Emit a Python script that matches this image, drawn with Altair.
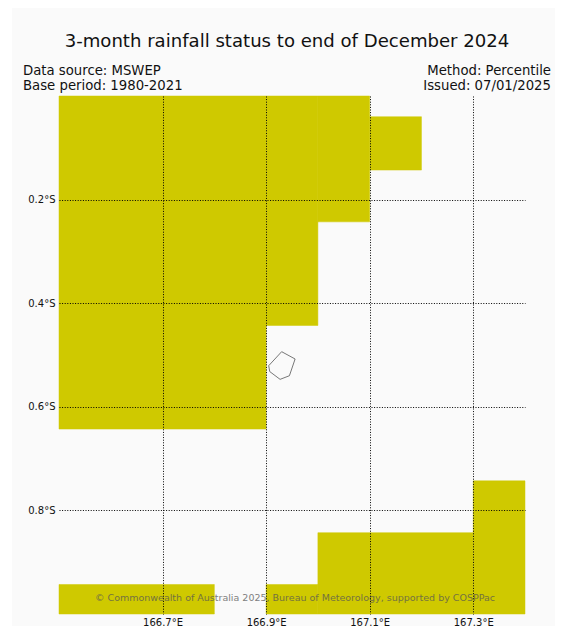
import altair as alt

# Rainfall cells: west, east, north, south
cell_w = [166.5, 166.9, 167.0, 167.1, 166.5, 166.9, 167.0, 167.3]
cell_e = [166.9, 167.0, 167.1, 167.2, 166.8, 167.0, 167.3, 167.4]
cell_n = [0.0, 0.0, 0.0, -0.04, -0.943, -0.943, -0.843, -0.743]
cell_s = [-0.643, -0.443, -0.243, -0.143, -1.0, -1.0, -1.0, -1.0]

# Island outline
isl_lon = [166.93, 166.956, 166.945, 166.927, 166.907, 166.905, 166.93]
isl_lat = [-0.4936, -0.5077, -0.54, -0.547, -0.532, -0.5207, -0.4936]

x_ticks = [166.7, 166.9, 167.1, 167.3]
y_ticks = [-0.2, -0.4, -0.6, -0.8]

TITLE = "3-month rainfall status to end of December 2024"
LEFT1 = "Data source: MSWEP"
LEFT2 = "Base period: 1980-2021"
RIGHT1 = "Method: Percentile"
RIGHT2 = "Issued: 07/01/2025"
COPY = "© Commonwealth of Australia 2025, Bureau of Meteorology, supported by COSPPac"

FONT = "DejaVu Sans"
PAD_L, PAD_T = 51, 88

cells = alt.Data(values=[
    {"w": a, "e": b, "n": c, "s": d}
    for a, b, c, d in zip(cell_w, cell_e, cell_n, cell_s)
])
island = alt.Data(values=[
    {"lon": a, "lat": b, "i": i} for i, (a, b) in enumerate(zip(isl_lon, isl_lat))
])
one = alt.Data(values=[{"a": 1}])

x_scale = alt.Scale(domain=[166.5, 167.4], nice=False, zero=False)
y_scale = alt.Scale(domain=[-1.0, 0.0], nice=False, zero=False)

x_axis = alt.Axis(
    values=x_ticks, grid=True, gridColor="#000000", gridDash=[1, 1.6], gridWidth=1,
    gridOpacity=1, domain=False, ticks=False, title=None, labelFont=FONT, labelFontSize=10,
    labelColor="#111111", labelPadding=3, labelExpr="format(datum.value, '.1f') + '°E'",
    labelFlush=False, labelOverlap=False, zindex=1,
)
y_axis = alt.Axis(
    values=y_ticks, grid=True, gridColor="#000000", gridDash=[1, 1.6], gridWidth=1,
    gridOpacity=1, domain=False, ticks=False, title=None, labelFont=FONT, labelFontSize=10,
    labelColor="#111111", labelPadding=4, labelExpr="format(abs(datum.value), '.1f') + '°S'",
    labelOverlap=False, zindex=1,
)

panel = alt.Chart(one).mark_rect(color="#fafafa").encode(
    x=alt.value(12 - 8 - PAD_L), x2=alt.value(561 - 8 - PAD_L),
    y=alt.value(-PAD_T), y2=alt.value(626 - 8 - PAD_T),
)

rects = alt.Chart(cells).mark_rect(color="#cfc900", stroke="#cfc900", strokeWidth=0.5).encode(
    x=alt.X("w:Q", scale=x_scale, axis=x_axis),
    x2="e:Q",
    y=alt.Y("n:Q", scale=y_scale, axis=y_axis),
    y2="s:Q",
)

outline = alt.Chart(island).mark_line(color="#555555", strokeWidth=0.8).encode(
    x=alt.X("lon:Q", scale=x_scale),
    y=alt.Y("lat:Q", scale=y_scale),
    order="i:Q",
)


def label(txt, px, py, size, align="left", color="#111111", opacity=1.0):
    return alt.Chart(one).mark_text(
        text=txt, font=FONT, fontSize=size, align=align, baseline="middle",
        color=color, opacity=opacity,
    ).encode(x=alt.value(px - 8 - PAD_L), y=alt.value(py - 8 - PAD_T))


chart = alt.layer(
    panel, rects, outline,
    label(TITLE, 287, 41.5, 18.1, "center"),
    label(LEFT1, 23, 71, 13.25),
    label(LEFT2, 23, 86, 13.25),
    label(RIGHT1, 551, 71, 13.25, "right"),
    label(RIGHT2, 551, 86, 13.25, "right"),
    label(COPY, 295, 597.5, 9.5, "center", "#555555", 0.75),
).properties(
    width=466, height=518,
    padding={"left": PAD_L, "top": PAD_T, "right": 30, "bottom": 12},
    autosize=alt.AutoSizeParams(type="none"),
    background="#ffffff",
).configure_view(stroke=None)

chart.save("out.html", embed_options={"renderer": "svg", "actions": False})
